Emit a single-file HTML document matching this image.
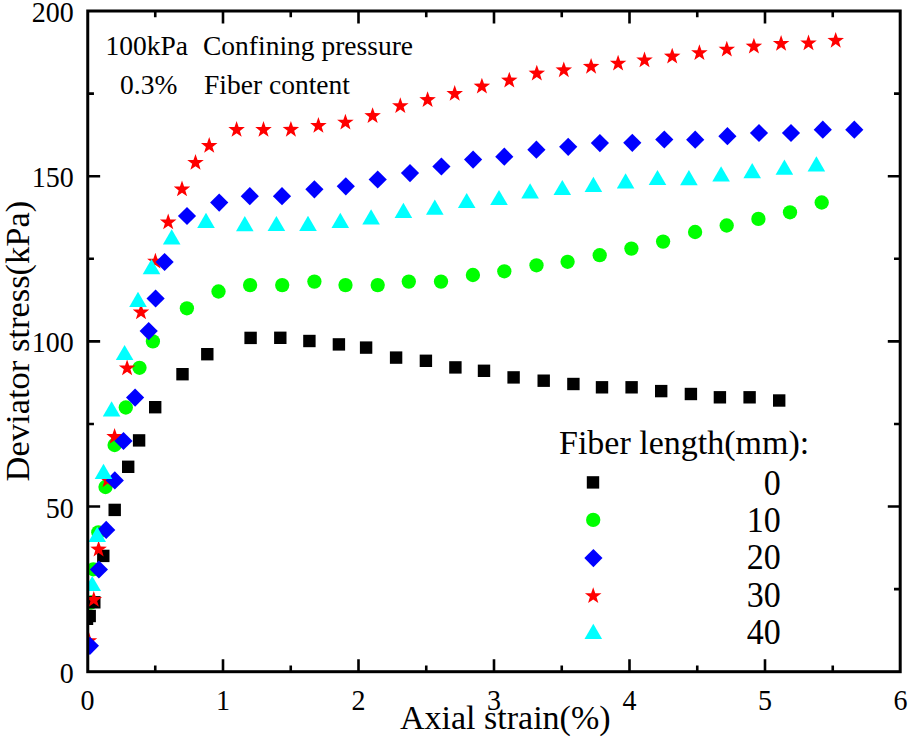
<!DOCTYPE html>
<html><head><meta charset="utf-8"><style>
html,body{margin:0;padding:0;background:#fff;}
svg{display:block;}
text{font-family:"Liberation Serif",serif;fill:#000;}
</style></head><body>
<svg width="910" height="742" viewBox="0 0 910 742">
<defs><clipPath id="pc"><rect x="88.75" y="12" width="810.45" height="658.7"/></clipPath></defs>
<rect width="910" height="742" fill="#fff"/>
<path d="M155.25 671.7V665.5M155.25 11V17.2M223 671.7V659.3M223 11V23.4M290.75 671.7V665.5M290.75 11V17.2M358.5 671.7V659.3M358.5 11V23.4M426.25 671.7V665.5M426.25 11V17.2M494 671.7V659.3M494 11V23.4M561.75 671.7V665.5M561.75 11V17.2M629.5 671.7V659.3M629.5 11V23.4M697.25 671.7V665.5M697.25 11V17.2M765 671.7V659.3M765 11V23.4M832.75 671.7V665.5M832.75 11V17.2M87.75 589.11H93.95M900.2 589.11H894M87.75 506.53H100.15M900.2 506.53H887.8M87.75 423.94H93.95M900.2 423.94H894M87.75 341.35H100.15M900.2 341.35H887.8M87.75 258.76H93.95M900.2 258.76H894M87.75 176.18H100.15M900.2 176.18H887.8M87.75 93.59H93.95M900.2 93.59H894" stroke="#000" stroke-width="2.6" fill="none"/>
<g clip-path="url(#pc)">
<circle cx="91" cy="602.5" r="7.15" fill="#00ff00"/>
<circle cx="93.3" cy="569.3" r="7.15" fill="#00ff00"/>
<circle cx="98.3" cy="532.3" r="7.15" fill="#00ff00"/>
<circle cx="105.5" cy="487" r="7.15" fill="#00ff00"/>
<circle cx="114.6" cy="445" r="7.15" fill="#00ff00"/>
<circle cx="125.8" cy="407.5" r="7.15" fill="#00ff00"/>
<circle cx="139.5" cy="367.8" r="7.15" fill="#00ff00"/>
<circle cx="152.9" cy="341.4" r="7.15" fill="#00ff00"/>
<circle cx="186.9" cy="308.3" r="7.15" fill="#00ff00"/>
<circle cx="218.5" cy="291.5" r="7.15" fill="#00ff00"/>
<circle cx="250.1" cy="285.1" r="7.15" fill="#00ff00"/>
<circle cx="282.2" cy="285.1" r="7.15" fill="#00ff00"/>
<circle cx="314.4" cy="281.6" r="7.15" fill="#00ff00"/>
<circle cx="345.5" cy="285.1" r="7.15" fill="#00ff00"/>
<circle cx="377.7" cy="285.1" r="7.15" fill="#00ff00"/>
<circle cx="408.8" cy="281.6" r="7.15" fill="#00ff00"/>
<circle cx="441" cy="281.6" r="7.15" fill="#00ff00"/>
<circle cx="472.9" cy="275" r="7.15" fill="#00ff00"/>
<circle cx="504.3" cy="271.3" r="7.15" fill="#00ff00"/>
<circle cx="536.5" cy="265.3" r="7.15" fill="#00ff00"/>
<circle cx="567.6" cy="261.8" r="7.15" fill="#00ff00"/>
<circle cx="599.7" cy="255.2" r="7.15" fill="#00ff00"/>
<circle cx="631.4" cy="248.6" r="7.15" fill="#00ff00"/>
<circle cx="663.1" cy="241.6" r="7.15" fill="#00ff00"/>
<circle cx="695.1" cy="232" r="7.15" fill="#00ff00"/>
<circle cx="726.7" cy="225.5" r="7.15" fill="#00ff00"/>
<circle cx="758.4" cy="218.9" r="7.15" fill="#00ff00"/>
<circle cx="790" cy="212.3" r="7.15" fill="#00ff00"/>
<circle cx="821.7" cy="202.5" r="7.15" fill="#00ff00"/>
<rect x="80.8" y="612.6" width="12.4" height="12.4" fill="#000"/>
<rect x="83.5" y="609.8" width="12.4" height="12.4" fill="#000"/>
<rect x="88.1" y="596.1" width="12.4" height="12.4" fill="#000"/>
<rect x="97.1" y="549.7" width="12.4" height="12.4" fill="#000"/>
<rect x="108.5" y="503.7" width="12.4" height="12.4" fill="#000"/>
<rect x="122" y="460.6" width="12.4" height="12.4" fill="#000"/>
<rect x="132.9" y="434.2" width="12.4" height="12.4" fill="#000"/>
<rect x="149" y="401" width="12.4" height="12.4" fill="#000"/>
<rect x="176.3" y="368" width="12.4" height="12.4" fill="#000"/>
<rect x="201.1" y="348" width="12.4" height="12.4" fill="#000"/>
<rect x="244.4" y="331.7" width="12.4" height="12.4" fill="#000"/>
<rect x="274.1" y="331.6" width="12.4" height="12.4" fill="#000"/>
<rect x="303.2" y="334.8" width="12.4" height="12.4" fill="#000"/>
<rect x="332.7" y="338.2" width="12.4" height="12.4" fill="#000"/>
<rect x="359.9" y="341.4" width="12.4" height="12.4" fill="#000"/>
<rect x="389.9" y="351.4" width="12.4" height="12.4" fill="#000"/>
<rect x="419.7" y="354.6" width="12.4" height="12.4" fill="#000"/>
<rect x="449.2" y="361.2" width="12.4" height="12.4" fill="#000"/>
<rect x="477.8" y="364.6" width="12.4" height="12.4" fill="#000"/>
<rect x="507.4" y="371.2" width="12.4" height="12.4" fill="#000"/>
<rect x="537.5" y="374.5" width="12.4" height="12.4" fill="#000"/>
<rect x="567.2" y="377.8" width="12.4" height="12.4" fill="#000"/>
<rect x="595.8" y="381.1" width="12.4" height="12.4" fill="#000"/>
<rect x="625.4" y="381.1" width="12.4" height="12.4" fill="#000"/>
<rect x="655" y="384.9" width="12.4" height="12.4" fill="#000"/>
<rect x="684.7" y="387.8" width="12.4" height="12.4" fill="#000"/>
<rect x="713.7" y="391.1" width="12.4" height="12.4" fill="#000"/>
<rect x="743.4" y="391.1" width="12.4" height="12.4" fill="#000"/>
<rect x="773" y="394.3" width="12.4" height="12.4" fill="#000"/>
<path d="M89 632.3L91.05 638.18L97.27 638.31L92.31 642.08L94.11 648.04L89 644.48L83.89 648.04L85.69 642.08L80.73 638.31L86.95 638.18Z" fill="#ff0000"/>
<path d="M93.8 591.1L95.85 596.98L102.07 597.11L97.11 600.88L98.91 606.84L93.8 603.28L88.69 606.84L90.49 600.88L85.53 597.11L91.75 596.98Z" fill="#ff0000"/>
<path d="M98.6 540.7L100.65 546.58L106.87 546.71L101.91 550.48L103.71 556.44L98.6 552.88L93.49 556.44L95.29 550.48L90.33 546.71L96.55 546.58Z" fill="#ff0000"/>
<path d="M107.6 471.4L109.65 477.28L115.87 477.41L110.91 481.18L112.71 487.14L107.6 483.58L102.49 487.14L104.29 481.18L99.33 477.41L105.55 477.28Z" fill="#ff0000"/>
<path d="M114.6 428.1L116.65 433.98L122.87 434.11L117.91 437.88L119.71 443.84L114.6 440.28L109.49 443.84L111.29 437.88L106.33 434.11L112.55 433.98Z" fill="#ff0000"/>
<path d="M127.1 359.5L129.15 365.38L135.37 365.51L130.41 369.28L132.21 375.24L127.1 371.68L121.99 375.24L123.79 369.28L118.83 365.51L125.05 365.38Z" fill="#ff0000"/>
<path d="M141 303.6L143.05 309.48L149.27 309.61L144.31 313.38L146.11 319.34L141 315.78L135.89 319.34L137.69 313.38L132.73 309.61L138.95 309.48Z" fill="#ff0000"/>
<path d="M155.4 252.8L157.45 258.68L163.67 258.81L158.71 262.58L160.51 268.54L155.4 264.98L150.29 268.54L152.09 262.58L147.13 258.81L153.35 258.68Z" fill="#ff0000"/>
<path d="M168.2 213.6L170.25 219.48L176.47 219.61L171.51 223.38L173.31 229.34L168.2 225.78L163.09 229.34L164.89 223.38L159.93 219.61L166.15 219.48Z" fill="#ff0000"/>
<path d="M182 180.6L184.05 186.48L190.27 186.61L185.31 190.38L187.11 196.34L182 192.78L176.89 196.34L178.69 190.38L173.73 186.61L179.95 186.48Z" fill="#ff0000"/>
<path d="M195.5 154L197.55 159.88L203.77 160.01L198.81 163.78L200.61 169.74L195.5 166.18L190.39 169.74L192.19 163.78L187.23 160.01L193.45 159.88Z" fill="#ff0000"/>
<path d="M209.2 137.1L211.25 142.98L217.47 143.11L212.51 146.88L214.31 152.84L209.2 149.28L204.09 152.84L205.89 146.88L200.93 143.11L207.15 142.98Z" fill="#ff0000"/>
<path d="M236.6 121.1L238.65 126.98L244.87 127.11L239.91 130.88L241.71 136.84L236.6 133.28L231.49 136.84L233.29 130.88L228.33 127.11L234.55 126.98Z" fill="#ff0000"/>
<path d="M263.5 121.1L265.55 126.98L271.77 127.11L266.81 130.88L268.61 136.84L263.5 133.28L258.39 136.84L260.19 130.88L255.23 127.11L261.45 126.98Z" fill="#ff0000"/>
<path d="M290.9 120.9L292.95 126.78L299.17 126.91L294.21 130.68L296.01 136.64L290.9 133.08L285.79 136.64L287.59 130.68L282.63 126.91L288.85 126.78Z" fill="#ff0000"/>
<path d="M318.4 117.1L320.45 122.98L326.67 123.11L321.71 126.88L323.51 132.84L318.4 129.28L313.29 132.84L315.09 126.88L310.13 123.11L316.35 122.98Z" fill="#ff0000"/>
<path d="M345.4 113.8L347.45 119.68L353.67 119.81L348.71 123.58L350.51 129.54L345.4 125.98L340.29 129.54L342.09 123.58L337.13 119.81L343.35 119.68Z" fill="#ff0000"/>
<path d="M372.6 107.2L374.65 113.08L380.87 113.21L375.91 116.98L377.71 122.94L372.6 119.38L367.49 122.94L369.29 116.98L364.33 113.21L370.55 113.08Z" fill="#ff0000"/>
<path d="M400.3 97.3L402.35 103.18L408.57 103.31L403.61 107.08L405.41 113.04L400.3 109.48L395.19 113.04L396.99 107.08L392.03 103.31L398.25 103.18Z" fill="#ff0000"/>
<path d="M427.6 91.2L429.65 97.08L435.87 97.21L430.91 100.98L432.71 106.94L427.6 103.38L422.49 106.94L424.29 100.98L419.33 97.21L425.55 97.08Z" fill="#ff0000"/>
<path d="M454.7 85.1L456.75 90.98L462.97 91.11L458.01 94.88L459.81 100.84L454.7 97.28L449.59 100.84L451.39 94.88L446.43 91.11L452.65 90.98Z" fill="#ff0000"/>
<path d="M481.9 77.7L483.95 83.58L490.17 83.71L485.21 87.48L487.01 93.44L481.9 89.88L476.79 93.44L478.59 87.48L473.63 83.71L479.85 83.58Z" fill="#ff0000"/>
<path d="M509.3 71.7L511.35 77.58L517.57 77.71L512.61 81.48L514.41 87.44L509.3 83.88L504.19 87.44L505.99 81.48L501.03 77.71L507.25 77.58Z" fill="#ff0000"/>
<path d="M536.8 64.7L538.85 70.58L545.07 70.71L540.11 74.48L541.91 80.44L536.8 76.88L531.69 80.44L533.49 74.48L528.53 70.71L534.75 70.58Z" fill="#ff0000"/>
<path d="M563.8 61.4L565.85 67.28L572.07 67.41L567.11 71.18L568.91 77.14L563.8 73.58L558.69 77.14L560.49 71.18L555.53 67.41L561.75 67.28Z" fill="#ff0000"/>
<path d="M591.1 57.9L593.15 63.78L599.37 63.91L594.41 67.68L596.21 73.64L591.1 70.08L585.99 73.64L587.79 67.68L582.83 63.91L589.05 63.78Z" fill="#ff0000"/>
<path d="M618.1 54.8L620.15 60.68L626.37 60.81L621.41 64.58L623.21 70.54L618.1 66.98L612.99 70.54L614.79 64.58L609.83 60.81L616.05 60.68Z" fill="#ff0000"/>
<path d="M644.5 51.5L646.55 57.38L652.77 57.51L647.81 61.28L649.61 67.24L644.5 63.68L639.39 67.24L641.19 61.28L636.23 57.51L642.45 57.38Z" fill="#ff0000"/>
<path d="M672.2 47.7L674.25 53.58L680.47 53.71L675.51 57.48L677.31 63.44L672.2 59.88L667.09 63.44L668.89 57.48L663.93 53.71L670.15 53.58Z" fill="#ff0000"/>
<path d="M699.4 44.3L701.45 50.18L707.67 50.31L702.71 54.08L704.51 60.04L699.4 56.48L694.29 60.04L696.09 54.08L691.13 50.31L697.35 50.18Z" fill="#ff0000"/>
<path d="M726.8 40.8L728.85 46.68L735.07 46.81L730.11 50.58L731.91 56.54L726.8 52.98L721.69 56.54L723.49 50.58L718.53 46.81L724.75 46.68Z" fill="#ff0000"/>
<path d="M753.9 37.7L755.95 43.58L762.17 43.71L757.21 47.48L759.01 53.44L753.9 49.88L748.79 53.44L750.59 47.48L745.63 43.71L751.85 43.58Z" fill="#ff0000"/>
<path d="M781.1 35L783.15 40.88L789.37 41.01L784.41 44.78L786.21 50.74L781.1 47.18L775.99 50.74L777.79 44.78L772.83 41.01L779.05 40.88Z" fill="#ff0000"/>
<path d="M808.5 34.5L810.55 40.38L816.77 40.51L811.81 44.28L813.61 50.24L808.5 46.68L803.39 50.24L805.19 44.28L800.23 40.51L806.45 40.38Z" fill="#ff0000"/>
<path d="M835.7 31.9L837.75 37.78L843.97 37.91L839.01 41.68L840.81 47.64L835.7 44.08L830.59 47.64L832.39 41.68L827.43 37.91L833.65 37.78Z" fill="#ff0000"/>
<path d="M89.9 636.7L99 645.8L89.9 654.9L80.8 645.8Z" fill="#0000ff"/>
<path d="M98.9 560.4L108 569.5L98.9 578.6L89.8 569.5Z" fill="#0000ff"/>
<path d="M106.2 520.8L115.3 529.9L106.2 539L97.1 529.9Z" fill="#0000ff"/>
<path d="M114.8 471.3L123.9 480.4L114.8 489.5L105.7 480.4Z" fill="#0000ff"/>
<path d="M123.5 431.9L132.6 441L123.5 450.1L114.4 441Z" fill="#0000ff"/>
<path d="M135.1 388.5L144.2 397.6L135.1 406.7L126 397.6Z" fill="#0000ff"/>
<path d="M148.7 322L157.8 331.1L148.7 340.2L139.6 331.1Z" fill="#0000ff"/>
<path d="M155.6 289.4L164.7 298.5L155.6 307.6L146.5 298.5Z" fill="#0000ff"/>
<path d="M164.6 252.9L173.7 262L164.6 271.1L155.5 262Z" fill="#0000ff"/>
<path d="M187 206.9L196.1 216L187 225.1L177.9 216Z" fill="#0000ff"/>
<path d="M219.2 193.5L228.3 202.6L219.2 211.7L210.1 202.6Z" fill="#0000ff"/>
<path d="M249.8 187.1L258.9 196.2L249.8 205.3L240.7 196.2Z" fill="#0000ff"/>
<path d="M282 187.1L291.1 196.2L282 205.3L272.9 196.2Z" fill="#0000ff"/>
<path d="M314.4 180.2L323.5 189.3L314.4 198.4L305.3 189.3Z" fill="#0000ff"/>
<path d="M345.8 177.2L354.9 186.3L345.8 195.4L336.7 186.3Z" fill="#0000ff"/>
<path d="M377.7 170.4L386.8 179.5L377.7 188.6L368.6 179.5Z" fill="#0000ff"/>
<path d="M410 164L419.1 173.1L410 182.2L400.9 173.1Z" fill="#0000ff"/>
<path d="M441.4 157.4L450.5 166.5L441.4 175.6L432.3 166.5Z" fill="#0000ff"/>
<path d="M473.1 150.5L482.2 159.6L473.1 168.7L464 159.6Z" fill="#0000ff"/>
<path d="M504.3 147.6L513.4 156.7L504.3 165.8L495.2 156.7Z" fill="#0000ff"/>
<path d="M536.4 140.6L545.5 149.7L536.4 158.8L527.3 149.7Z" fill="#0000ff"/>
<path d="M568.2 137.7L577.3 146.8L568.2 155.9L559.1 146.8Z" fill="#0000ff"/>
<path d="M599.9 134L609 143.1L599.9 152.2L590.8 143.1Z" fill="#0000ff"/>
<path d="M632.3 133.7L641.4 142.8L632.3 151.9L623.2 142.8Z" fill="#0000ff"/>
<path d="M664.3 130.4L673.4 139.5L664.3 148.6L655.2 139.5Z" fill="#0000ff"/>
<path d="M695.2 130.6L704.3 139.7L695.2 148.8L686.1 139.7Z" fill="#0000ff"/>
<path d="M727.4 127.1L736.5 136.2L727.4 145.3L718.3 136.2Z" fill="#0000ff"/>
<path d="M759 123.9L768.1 133L759 142.1L749.9 133Z" fill="#0000ff"/>
<path d="M791 123.9L800.1 133L791 142.1L781.9 133Z" fill="#0000ff"/>
<path d="M822.8 120.6L831.9 129.7L822.8 138.8L813.7 129.7Z" fill="#0000ff"/>
<path d="M854.3 120.6L863.4 129.7L854.3 138.8L845.2 129.7Z" fill="#0000ff"/>
<path d="M92.2 575.9L101 591.1L83.4 591.1Z" fill="#00ffff"/>
<path d="M97.2 526.8L106 542L88.4 542Z" fill="#00ffff"/>
<path d="M103.5 463.8L112.3 479L94.7 479Z" fill="#00ffff"/>
<path d="M111.6 401.2L120.4 416.4L102.8 416.4Z" fill="#00ffff"/>
<path d="M124.6 344.9L133.4 360.1L115.8 360.1Z" fill="#00ffff"/>
<path d="M138 291.8L146.8 307L129.2 307Z" fill="#00ffff"/>
<path d="M151.5 259L160.3 274.2L142.7 274.2Z" fill="#00ffff"/>
<path d="M171.7 229.2L180.5 244.4L162.9 244.4Z" fill="#00ffff"/>
<path d="M206 212.8L214.8 228L197.2 228Z" fill="#00ffff"/>
<path d="M244.8 216L253.6 231.2L236 231.2Z" fill="#00ffff"/>
<path d="M276.4 215.9L285.2 231.1L267.6 231.1Z" fill="#00ffff"/>
<path d="M308 215.8L316.8 231L299.2 231Z" fill="#00ffff"/>
<path d="M340.3 212.7L349.1 227.9L331.5 227.9Z" fill="#00ffff"/>
<path d="M371.1 209.2L379.9 224.4L362.3 224.4Z" fill="#00ffff"/>
<path d="M403.4 202.8L412.2 218L394.6 218Z" fill="#00ffff"/>
<path d="M434.8 199.5L443.6 214.7L426 214.7Z" fill="#00ffff"/>
<path d="M466.7 192.9L475.5 208.1L457.9 208.1Z" fill="#00ffff"/>
<path d="M499 189.9L507.8 205.1L490.2 205.1Z" fill="#00ffff"/>
<path d="M530.1 183.3L538.9 198.5L521.3 198.5Z" fill="#00ffff"/>
<path d="M562.3 179.9L571.1 195.1L553.5 195.1Z" fill="#00ffff"/>
<path d="M593.4 176.7L602.2 191.9L584.6 191.9Z" fill="#00ffff"/>
<path d="M625.6 173.3L634.4 188.5L616.8 188.5Z" fill="#00ffff"/>
<path d="M657.5 169.9L666.3 185.1L648.7 185.1Z" fill="#00ffff"/>
<path d="M688.9 170L697.7 185.2L680.1 185.2Z" fill="#00ffff"/>
<path d="M721.1 166.3L729.9 181.5L712.3 181.5Z" fill="#00ffff"/>
<path d="M752.2 163L761 178.2L743.4 178.2Z" fill="#00ffff"/>
<path d="M784.4 159.6L793.2 174.8L775.6 174.8Z" fill="#00ffff"/>
<path d="M816.4 156.3L825.2 171.5L807.6 171.5Z" fill="#00ffff"/>
</g>
<rect x="87.75" y="11" width="812.45" height="660.7" fill="none" stroke="#000" stroke-width="3"/>
<text transform="translate(73.8 682.7) scale(1 1.06)" text-anchor="end" font-size="28">0</text>
<text transform="translate(73.8 517.53) scale(1 1.06)" text-anchor="end" font-size="28">50</text>
<text transform="translate(73.8 352.35) scale(1 1.06)" text-anchor="end" font-size="28">100</text>
<text transform="translate(73.8 187.18) scale(1 1.06)" text-anchor="end" font-size="28">150</text>
<text transform="translate(73.8 22) scale(1 1.06)" text-anchor="end" font-size="28">200</text>
<text transform="translate(87.5 709.5) scale(1 1.06)" text-anchor="middle" font-size="28">0</text>
<text transform="translate(223 709.5) scale(1 1.06)" text-anchor="middle" font-size="28">1</text>
<text transform="translate(358.5 709.5) scale(1 1.06)" text-anchor="middle" font-size="28">2</text>
<text transform="translate(494 709.5) scale(1 1.06)" text-anchor="middle" font-size="28">3</text>
<text transform="translate(629.5 709.5) scale(1 1.06)" text-anchor="middle" font-size="28">4</text>
<text transform="translate(765 709.5) scale(1 1.06)" text-anchor="middle" font-size="28">5</text>
<text transform="translate(900.5 709.5) scale(1 1.06)" text-anchor="middle" font-size="28">6</text>
<text x="400" y="729.3" font-size="34">Axial strain(%)</text>
<text transform="translate(29.4 481.4) rotate(-90)" font-size="34.5">Deviator stress(kPa)</text>
<text x="105.5" y="54.5" font-size="27.5">100kPa</text>
<text x="203" y="54.5" font-size="27.5">Confining pressure</text>
<text x="120" y="93.6" font-size="27.5">0.3%</text>
<text x="204" y="93.6" font-size="27.5">Fiber content</text>
<text x="559" y="454.3" font-size="34">Fiber length(mm):</text>
<text transform="translate(780.8 494.5) scale(1 1.06)" text-anchor="end" font-size="34">0</text>
<text transform="translate(780.8 531.9) scale(1 1.06)" text-anchor="end" font-size="34">10</text>
<text transform="translate(780.8 569.3) scale(1 1.06)" text-anchor="end" font-size="34">20</text>
<text transform="translate(780.8 606.7) scale(1 1.06)" text-anchor="end" font-size="34">30</text>
<text transform="translate(780.8 644.1) scale(1 1.06)" text-anchor="end" font-size="34">40</text>
<rect x="586.8" y="476.2" width="12.4" height="12.4" fill="#000"/>
<circle cx="593.2" cy="519.9" r="7.15" fill="#00ff00"/>
<path d="M593.4 549L602.5 558.1L593.4 567.2L584.3 558.1Z" fill="#0000ff"/>
<path d="M593.2 587.3L595.25 593.18L601.47 593.31L596.51 597.08L598.31 603.04L593.2 599.48L588.09 603.04L589.89 597.08L584.93 593.31L591.15 593.18Z" fill="#ff0000"/>
<path d="M593.3 623.8L602.1 639L584.5 639Z" fill="#00ffff"/>
</svg>
</body></html>
